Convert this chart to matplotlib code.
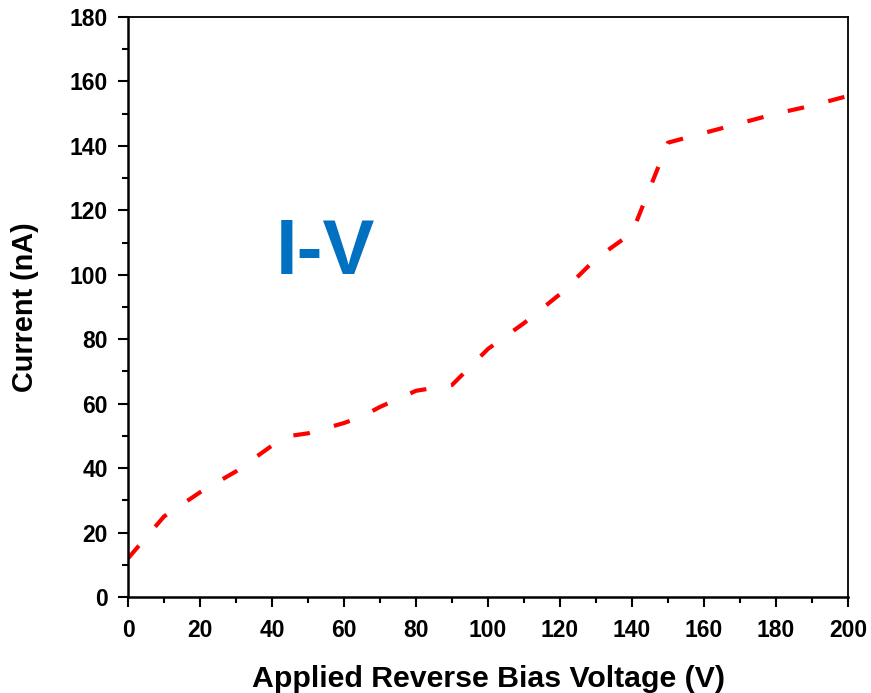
import matplotlib
matplotlib.use('Agg')
import matplotlib.pyplot as plt
from matplotlib.ticker import MultipleLocator

# I-V data
voltage = [0, 10, 20, 30, 40, 45, 50, 60, 65, 70, 80, 90, 100, 110, 120, 130, 140, 150, 160, 170, 180, 190, 200]
current = [12, 25, 32.5, 39, 47, 50, 50.8, 54, 56, 59, 64, 65.8, 77, 85, 94, 105, 113, 141, 144, 147, 150, 152.5, 155.5]

plt.rcParams['font.family'] = ['Liberation Sans', 'DejaVu Sans']
plt.rcParams['font.weight'] = 'bold'
plt.rcParams['lines.scale_dashes'] = False

fig = plt.figure(figsize=(8.71, 6.93), dpi=100)
ax = fig.add_axes([0.147, 0.1385, 0.8266, 0.837])

ax.plot(voltage, current, color='#ff0000', linewidth=3,
        linestyle=(0, (12, 18)), solid_capstyle='butt', dash_capstyle='butt')

ax.text(54.7, 106.5, 'I-V', color='#0070c0', fontsize=56, fontweight='bold',
        ha='center', va='center')

ax.set_xlim(0, 200)
ax.set_ylim(0, 180)
ax.xaxis.set_major_locator(MultipleLocator(20))
ax.xaxis.set_minor_locator(MultipleLocator(10))
ax.yaxis.set_major_locator(MultipleLocator(20))
ax.yaxis.set_minor_locator(MultipleLocator(10))

ax.tick_params(which='both', direction='out', width=1.5, top=False, right=False,
               labelsize=16.5)
ax.tick_params(axis='x', which='major', pad=8)
ax.tick_params(axis='y', which='major', pad=7)
ax.tick_params(which='major', length=7.5)
ax.tick_params(which='minor', length=4.5)

for s in ['left', 'bottom']:
    ax.spines[s].set_linewidth(1.8)
for s in ['top', 'right']:
    ax.spines[s].set_linewidth(1.3)

ax.set_xlabel('Applied Reverse Bias Voltage (V)', fontsize=21.8, fontweight='bold', labelpad=17)
ax.set_ylabel('Current (nA)', fontsize=20.8, fontweight='bold', labelpad=22)

plt.savefig('out.png', dpi=100)
